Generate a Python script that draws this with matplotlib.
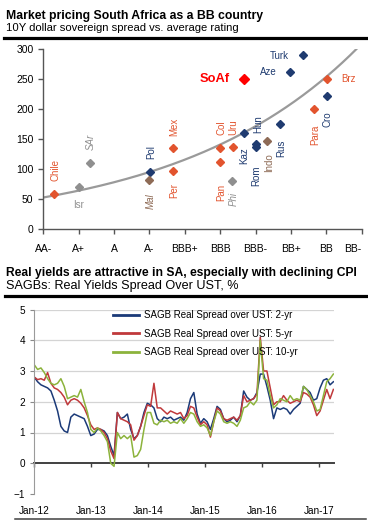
import numpy as np
import pandas as pd
import matplotlib
matplotlib.use("Agg")
import matplotlib.pyplot as plt
import matplotlib.dates as mdates

plt.rcParams['font.family'] = ['Liberation Sans', 'DejaVu Sans']

# ---------------- data: top chart ----------------
rating_labels = ['AA-', 'A+', 'A', 'A-', 'BBB+', 'BBB', 'BBB-', 'BB+', 'BB', 'BB-']
countries = ['Chile', 'Isr', 'SAr', 'Pol', 'Mal', 'Mex', 'Per', 'Col', 'Pan', 'Uru', 'Phi',
             'Kaz', 'Hun', 'Rom', 'Indo', 'Rus', 'Para', 'Cro', 'Brz', 'Aze', 'Turk', 'SoAf']
avg_rating = [0.31, 1.00, 1.32, 3.02, 2.99, 3.67, 3.67, 5.00, 5.00, 5.35, 5.34,
              5.66, 6.00, 6.00, 6.31, 6.69, 7.65, 8.02, 8.02, 6.98, 7.33, 5.67]
spread_bp = [59, 71, 110, 96, 82, 135, 98, 135, 113, 137, 81,
             161, 143, 137, 148, 175, 201, 223, 251, 262, 290, 251]
group = ['LatAm', 'Other', 'Other', 'EM Europe', 'Asia', 'LatAm', 'LatAm', 'LatAm', 'LatAm', 'LatAm', 'Other',
         'EM Europe', 'EM Europe', 'EM Europe', 'Asia', 'EM Europe', 'LatAm', 'EM Europe', 'LatAm',
         'EM Europe', 'EM Europe', 'SA']
# exponential trendline parameters: spread = a * exp(b * rating)
trend_a = 53.0
trend_b = 0.196

# ---------------- data: bottom chart ----------------
series_start = '2012-01-01'
series_end = '2017-04-01'
real_2y = [2.80, 2.65, 2.55, 2.50, 2.45, 2.35, 2.05, 1.70, 1.20, 1.05,
           1.00, 1.50, 1.60, 1.55, 1.50, 1.45, 1.20, 0.90, 0.95, 1.10,
           1.10, 1.05, 0.90, 0.55, 0.25, 1.65, 1.45, 1.50, 1.60, 1.10,
           0.80, 0.90, 1.20, 1.65, 1.95, 1.90, 1.80, 1.45, 1.35, 1.50,
           1.45, 1.50, 1.40, 1.45, 1.50, 1.40, 1.65, 2.10, 2.30, 1.60,
           1.30, 1.45, 1.35, 1.10, 1.45, 1.85, 1.75, 1.45, 1.35, 1.40,
           1.50, 1.35, 1.55, 2.35, 2.15, 2.05, 2.10, 2.30, 2.90, 2.90,
           2.50, 2.05, 1.45, 1.80, 1.75, 1.80, 1.75, 1.60, 1.75, 1.85,
           1.95, 2.50, 2.40, 2.30, 2.05, 2.10, 2.45, 2.70, 2.75, 2.55,
           2.65]
real_5y = [2.80, 2.72, 2.75, 2.70, 2.95, 2.60, 2.45, 2.40, 2.30, 2.15,
           1.90, 2.05, 2.10, 2.05, 1.95, 1.80, 1.55, 1.25, 1.10, 1.15,
           1.10, 1.00, 0.80, 0.40, 0.15, 1.65, 1.45, 1.40, 1.35, 1.25,
           0.75, 0.90, 1.20, 1.55, 1.90, 1.85, 2.60, 1.80, 1.80, 1.70,
           1.60, 1.70, 1.65, 1.60, 1.65, 1.45, 1.55, 1.85, 1.80, 1.50,
           1.25, 1.35, 1.25, 0.85, 1.35, 1.80, 1.70, 1.45, 1.40, 1.45,
           1.50, 1.40, 1.55, 2.20, 2.00, 2.05, 2.10, 2.25, 4.10, 3.00,
           3.00, 2.45, 1.90, 2.00, 2.00, 2.20, 2.05, 1.95, 2.00, 2.05,
           2.00, 2.30, 2.25, 2.15, 1.90, 1.55, 1.70, 2.05, 2.40, 2.10,
           2.40]
real_10y = [3.20, 3.05, 3.10, 2.95, 2.75, 2.60, 2.55, 2.60, 2.75, 2.50,
            2.10, 2.15, 2.20, 2.15, 2.40, 2.00, 1.65, 1.10, 1.00, 1.15,
            1.05, 0.90, 0.70, 0.00, -0.10, 1.00, 0.80, 0.90, 0.80, 0.90,
            0.20, 0.25, 0.45, 1.10, 1.65, 1.65, 1.30, 1.25, 1.40, 1.35,
            1.40, 1.30, 1.35, 1.30, 1.45, 1.30, 1.45, 1.65, 1.60, 1.35,
            1.20, 1.25, 1.15, 0.90, 1.35, 1.70, 1.60, 1.35, 1.30, 1.35,
            1.30, 1.20, 1.40, 1.80, 1.85, 2.00, 1.90, 2.05, 4.00, 2.75,
            2.70, 2.20, 1.80, 1.90, 2.10, 2.05, 2.00, 2.20, 2.05, 2.10,
            2.05, 2.50, 2.40, 2.20, 2.00, 1.70, 1.75, 2.20, 2.65, 2.75,
            2.90]
series_names = ['SAGB Real Spread over UST: 2-yr',
                'SAGB Real Spread over UST: 5-yr',
                'SAGB Real Spread over UST: 10-yr']
year_ticks = ['2012-01-01', '2013-01-01', '2014-01-01', '2015-01-01', '2016-01-01', '2017-01-01']

# ---------------- styles ----------------
group_colors = {'LatAm': '#E2542E', 'Other': '#8F8F8F', 'EM Europe': '#1F3B70',
                'Asia': '#8E6B56', 'SA': '#FF0000'}
italic_labels = {'SAr', 'Mal', 'Phi'}
horizontal_labels = {'Isr', 'Brz', 'Aze', 'Turk', 'SoAf'}
label_offsets = {  # pixel offsets of label centres from the marker
    'Chile': (1.7, 23.5), 'Isr': (0, -18.5), 'SAr': (1, 21.6), 'Pol': (0.8, 19.5),
    'Mal': (1.8, -20.7), 'Mex': (1.2, 21.6), 'Per': (0.8, -20.4), 'Col': (1, 20.8),
    'Pan': (0.8, -30.8), 'Uru': (0.6, 20.3), 'Phi': (1.7, -18.3), 'Kaz': (0.3, -23.1),
    'Hun': (3.1, 19.1), 'Rom': (0.3, -28.5), 'Indo': (2.3, -22.6), 'Rus': (0.8, -24.3),
    'Para': (1.5, -26.5), 'Cro': (0.8, -23.6), 'Brz': (21.8, 0), 'Aze': (-21.5, 0),
    'Turk': (-23, -0.7), 'SoAf': (-29, 0)}
line_colors = ['#1B3A78', '#C0393B', '#8CB33C']

W, H = 368, 522
fig = plt.figure(figsize=(W / 100, H / 100), dpi=100)


def fy(py):
    return 1 - py / H


# ---------- headings and rules ----------
fig.text(6 / W, fy(19.3), 'Market pricing South Africa as a BB country',
         fontweight='bold', fontsize=8.8, va='baseline', ha='left')
fig.text(6 / W, fy(30.7), '10Y dollar sovereign spread vs. average rating',
         fontsize=8.1, va='baseline', ha='left')
fig.text(6 / W, fy(275.7), 'Real yields are attractive in SA, especially with declining CPI',
         fontweight='bold', fontsize=8.7, va='baseline', ha='left')
fig.text(6 / W, fy(289.3), 'SAGBs: Real Yields Spread Over UST, %',
         fontsize=9.1, va='baseline', ha='left')
for y, lw, c, x0 in [(38.0, 2.3, 'black', 4), (296.0, 2.3, 'black', 5), (519.2, 1.1, '#404040', 15)]:
    fig.add_artist(plt.Line2D([x0 / W, 366 / W], [fy(y), fy(y)], color=c, lw=lw,
                              transform=fig.transFigure))

# ---------- top chart ----------
ax1 = fig.add_axes([43.3 / W, fy(229.3), 318.4 / W, 180 / H])
ax1.set_xlim(0, len(rating_labels) - 1)
ax1.set_ylim(0, 300)
xs = np.linspace(0, len(rating_labels) - 1, 300)
ax1.plot(xs, trend_a * np.exp(trend_b * xs), color='#9A9A9A', lw=1.6, zorder=1)
for name, xr, yv, g in zip(countries, avg_rating, spread_bp, group):
    c = group_colors[g]
    ms = 5.5 if name == 'SoAf' else 4.4
    ax1.plot([xr], [yv], marker='D', ms=ms, color=c, mec=c, ls='none', zorder=3)
    dx, dy = label_offsets[name]
    kw = dict(color=c, fontsize=7, ha='center', va='center')
    if name == 'SoAf':
        kw.update(fontsize=9.3, fontweight='bold')
    if name in italic_labels:
        kw['fontstyle'] = 'italic'
    rot = 0 if name in horizontal_labels else 90
    ax1.annotate(name, (xr, yv), xytext=(dx, dy), textcoords='offset pixels',
                 rotation=rot, rotation_mode='anchor', **kw)
ax1.set_xticks(range(len(rating_labels)))
ax1.set_xticklabels(rating_labels)
ax1.get_xticklabels()[-1].set_horizontalalignment('right')
ax1.set_yticks(range(0, 301, 50))
for s in ['top', 'right']:
    ax1.spines[s].set_visible(False)
for s in ['left', 'bottom']:
    ax1.spines[s].set_color('#555555')
    ax1.spines[s].set_linewidth(1.0)
ax1.tick_params(axis='both', direction='out', length=3.5, width=1.0, color='#555555', labelsize=7.5)
ax1.tick_params(axis='x', pad=7)
ax1.tick_params(axis='y', pad=3.5)

# ---------- bottom chart ----------
ax2 = fig.add_axes([34.3 / W, fy(494), 299.7 / W, 184.5 / H])
dates = pd.date_range(series_start, series_end, periods=len(real_2y))
for vals, c, lab in zip([real_2y, real_5y, real_10y], line_colors, series_names):
    ax2.plot(dates, vals, color=c, lw=1.1, label=lab)
ax2.set_ylim(-1, 5)
ax2.set_xlim(pd.Timestamp('2012-01-01'), pd.Timestamp('2017-04-05'))
yt = list(range(-1, 6))
ax2.set_yticks(yt)
for v in yt:
    if v > 0:
        ax2.axhline(v, color='#D4D4D4', lw=0.9, zorder=0)
ticks = pd.to_datetime(year_ticks)
ax2.set_xticks(ticks)
ax2.xaxis.set_major_formatter(mdates.DateFormatter('%b-%y'))
ax2.tick_params(axis='x', length=0, pad=9, labelsize=7.2)
ax2.tick_params(axis='y', direction='out', length=3, color='#8A8A8A', labelsize=7.2, pad=3.5)
for s in ['top', 'right', 'bottom']:
    ax2.spines[s].set_visible(False)
ax2.spines['left'].set_color('#9A9A9A')
sec = ax2.secondary_xaxis(1 / 6)
sec.set_xticks(ticks)
sec.tick_params(axis='x', direction='out', length=3, width=1.0, color='#404040', labelbottom=False)
sec.spines['bottom'].set_color('#404040')
sec.spines['bottom'].set_linewidth(1.4)
leg = ax2.legend(loc='upper left', bbox_to_anchor=((113 - 34.3) / 299.7, 0.995), frameon=False,
                 fontsize=7, handlelength=2.7, handletextpad=0.45, labelspacing=0.85,
                 borderpad=0, borderaxespad=0)
for h in leg.get_lines():
    h.set_linewidth(2.0)

fig.savefig('out.png', dpi=100)
